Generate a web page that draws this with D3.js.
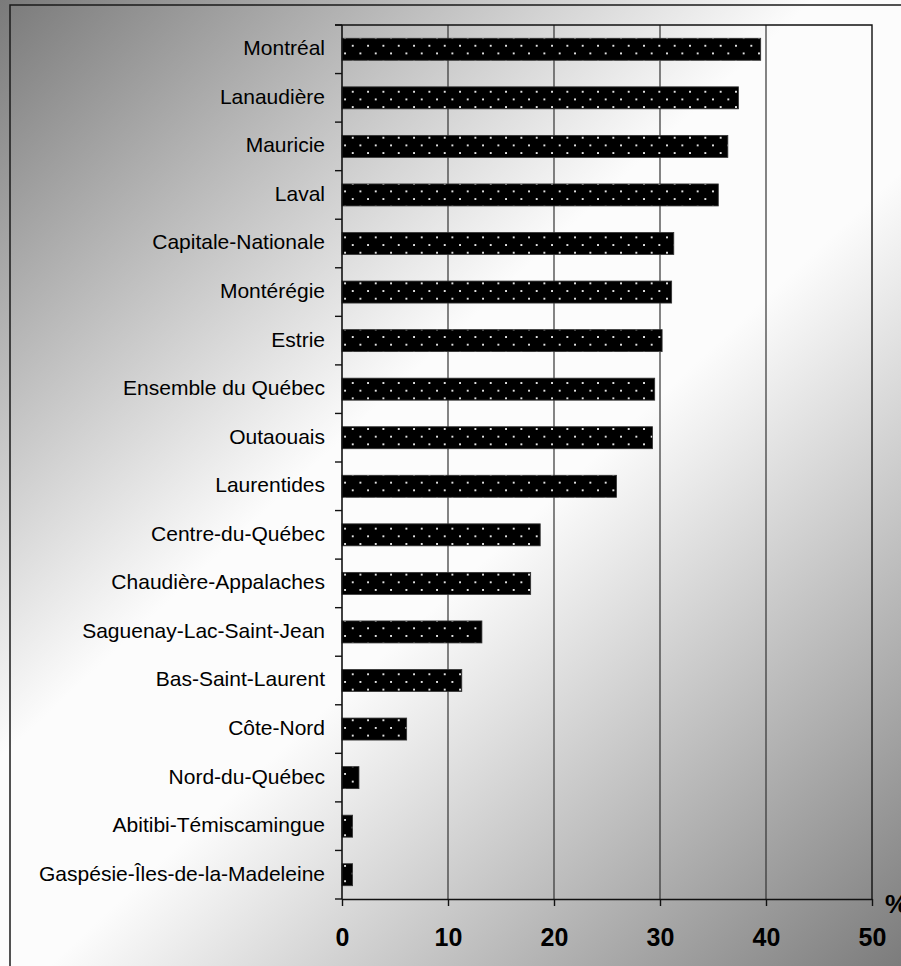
<!DOCTYPE html>
<html lang="fr">
<head>
<meta charset="utf-8">
<script src="https://cdn.jsdelivr.net/npm/d3@7"></script>
<style>
  html, body { margin: 0; padding: 0; background: #fff; }
  svg { display: block; }
</style>
</head>
<body>
<div id="chart"></div>
<script>
// Regions, sorted from highest to lowest share (%)
const categories = [
  "Montréal", "Lanaudière", "Mauricie", "Laval", "Capitale-Nationale",
  "Montérégie", "Estrie", "Ensemble du Québec", "Outaouais", "Laurentides",
  "Centre-du-Québec", "Chaudière-Appalaches", "Saguenay-Lac-Saint-Jean",
  "Bas-Saint-Laurent", "Côte-Nord", "Nord-du-Québec", "Abitibi-Témiscamingue",
  "Gaspésie-Îles-de-la-Madeleine"
];
const values = [
  39.5, 37.4, 36.4, 35.5, 31.3,
  31.1, 30.2, 29.5, 29.3, 25.9,
  18.7, 17.8, 13.2,
  11.3, 6.1, 1.6, 1.0,
  1.0
];
const xTicks = [0, 10, 20, 30, 40, 50];
const unitLabel = "%";

const W = 901, H = 966;
const plot = { left: 342, right: 872, top: 25, bottom: 899 };

const svg = d3.select("#chart").append("svg")
  .attr("width", W).attr("height", H);

const defs = svg.append("defs");

// Diagonal grey-white-grey backdrop
const grad = defs.append("linearGradient")
  .attr("id", "bg")
  .attr("gradientUnits", "userSpaceOnUse")
  .attr("x1", 0).attr("y1", 0).attr("x2", W).attr("y2", H);
grad.append("stop").attr("offset", 0).attr("stop-color", "#7a7a7a");
grad.append("stop").attr("offset", 0.42).attr("stop-color", "#fcfcfc");
grad.append("stop").attr("offset", 0.56).attr("stop-color", "#fcfcfc");
grad.append("stop").attr("offset", 1).attr("stop-color", "#7c7c7c");

// Dotted black fill for the bars
const step = 15.33;
const dot = 1.9;
const pat = defs.append("pattern")
  .attr("id", "dots")
  .attr("patternUnits", "userSpaceOnUse")
  .attr("x", 612.4).attr("y", 44.8)
  .attr("width", step).attr("height", step);
pat.append("rect").attr("width", step).attr("height", step).attr("fill", "#000");
pat.append("rect").attr("x", 0).attr("y", 0).attr("width", dot).attr("height", dot).attr("fill", "#e6e6e6");
pat.append("rect").attr("x", step / 2).attr("y", step / 2).attr("width", dot).attr("height", dot).attr("fill", "#e6e6e6");

svg.append("rect").attr("width", W).attr("height", H).attr("fill", "url(#bg)");

// Outer frame
svg.append("rect")
  .attr("x", 10).attr("y", 5).attr("width", 1000).attr("height", 1000)
  .attr("fill", "none").attr("stroke", "#1a1a1a").attr("stroke-width", 1.5);

const x = d3.scaleLinear().domain([0, 50]).range([plot.left, plot.right]);
const y = d3.scaleBand().domain(categories)
  .range([plot.top, plot.bottom])
  .paddingInner(0.547).paddingOuter(0.2735);

// Vertical gridlines
svg.append("g").selectAll("line")
  .data(xTicks.filter(t => t > 0 && t < 50))
  .join("line")
  .attr("x1", d => x(d)).attr("x2", d => x(d))
  .attr("y1", plot.top).attr("y2", plot.bottom)
  .attr("stroke", "#333").attr("stroke-width", 1.2);

// Plot border (top and right)
svg.append("path")
  .attr("d", `M${plot.left - 7},${plot.top}H${x(50)}V${plot.bottom}`)
  .attr("fill", "none").attr("stroke", "#111").attr("stroke-width", 1.4);

// Bars
svg.append("g").selectAll("rect")
  .data(categories.map((c, i) => ({ c, v: values[i] })))
  .join("rect")
  .attr("x", x(0))
  .attr("y", d => y(d.c))
  .attr("width", d => x(d.v) - x(0))
  .attr("height", y.bandwidth())
  .attr("fill", "url(#dots)")
  .attr("stroke", "#333").attr("stroke-width", 0.8);

// Category axis
const yAxis = svg.append("g")
  .attr("transform", `translate(${plot.left},0)`)
  .call(d3.axisLeft(y).tickSize(0).tickPadding(17));
yAxis.select(".domain").remove();
yAxis.selectAll("text")
  .attr("font-family", "'Liberation Sans', Arial, sans-serif")
  .attr("font-size", 21)
  .attr("fill", "#000")
  .attr("dy", "0.28em");

// Tick marks between categories
const bounds = d3.range(categories.length + 1).map(i => plot.top + i * y.step());
svg.append("g").selectAll("line")
  .data(bounds)
  .join("line")
  .attr("x1", plot.left - 7).attr("x2", plot.left)
  .attr("y1", d => d).attr("y2", d => d)
  .attr("stroke", "#111").attr("stroke-width", 1.4);

svg.append("line")
  .attr("x1", plot.left).attr("x2", plot.left)
  .attr("y1", plot.top).attr("y2", plot.bottom)
  .attr("stroke", "#111").attr("stroke-width", 1.6);

// Value axis
const xAxis = svg.append("g")
  .attr("transform", `translate(0,${plot.bottom})`)
  .call(d3.axisBottom(x).tickValues(xTicks).tickSize(7).tickSizeOuter(0).tickFormat(d3.format("d")));
xAxis.select(".domain").attr("stroke", "#111").attr("stroke-width", 1.4);
xAxis.selectAll(".tick line").attr("stroke", "#111").attr("stroke-width", 1.4);
xAxis.selectAll("text")
  .attr("font-family", "'Liberation Sans', Arial, sans-serif")
  .attr("font-size", 25)
  .attr("font-weight", "bold")
  .attr("fill", "#000")
  .attr("y", 47)
  .attr("dy", 0);

// Unit label (runs past the right edge of the frame)
svg.append("text")
  .attr("x", plot.right + 13).attr("y", 913)
  .attr("font-family", "'Liberation Sans', Arial, sans-serif")
  .attr("font-size", 26)
  .attr("font-weight", "bold")
  .attr("fill", "#000")
  .text(unitLabel);
</script>
</body>
</html>
